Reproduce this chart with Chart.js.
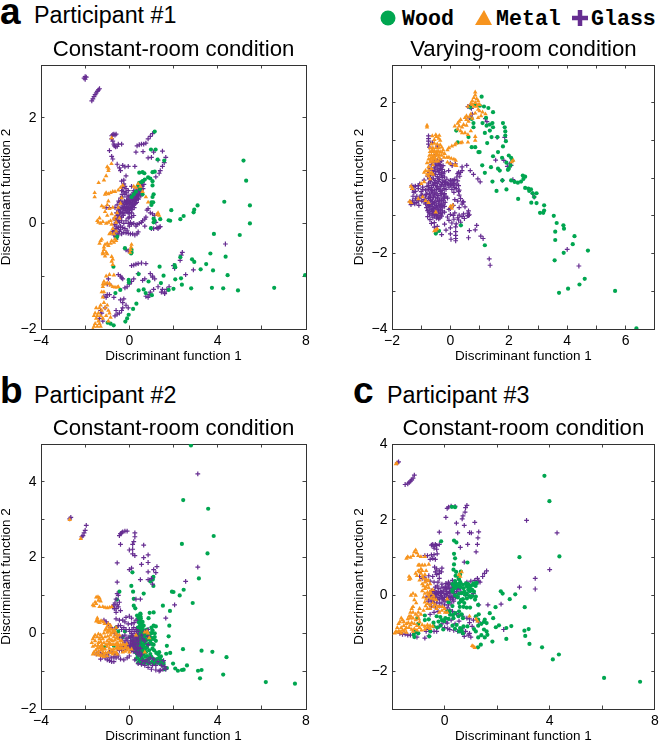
<!DOCTYPE html>
<html>
<head>
<meta charset="utf-8">
<title>Discriminant functions</title>
<script src="https://cdn.jsdelivr.net/npm/chart.js@4/dist/chart.umd.min.js"></script>
<style>
  html, body { margin: 0; padding: 0; background: #fff; overflow: hidden; }
  #page { position: relative; width: 660px; height: 740px; font-family: "Liberation Sans", Arial, sans-serif; color: #000; }
  canvas { position: absolute; }
  .letter { position: absolute; font-weight: bold; font-size: 37px; line-height: 37px; }
  .participant { position: absolute; font-size: 23.3px; line-height: 26px; }
  .legendText { position: absolute; top: 5px; font-family: "Liberation Mono", monospace; font-weight: bold; font-size: 21.6px; line-height: 28px; }
  .legendMark { position: absolute; }
</style>
</head>
<body>
<div id="page">
  <div class="letter" style="left:0;top:-7px">a</div>
  <div class="participant" style="left:34px;top:2px">Participant #1</div>
  <div class="letter" style="left:0;top:372px">b</div>
  <div class="participant" style="left:34px;top:382px">Participant #2</div>
  <div class="letter" style="left:353px;top:372px">c</div>
  <div class="participant" style="left:387px;top:382px">Participant #3</div>

  <svg class="legendMark" style="left:380px;top:9px" width="16" height="18"><circle cx="8" cy="9" r="7.5" fill="#00a650"/></svg>
  <div class="legendText" style="left:402px">Wood</div>
  <svg class="legendMark" style="left:475px;top:9px" width="18" height="18"><polygon points="9,1 17,16 0,16" fill="#f7941e"/></svg>
  <div class="legendText" style="left:496px">Metal</div>
  <svg class="legendMark" style="left:571px;top:9px" width="18" height="18"><path d="M9 1V17M1 9H17" stroke="#662d91" stroke-width="4.5"/></svg>
  <div class="legendText" style="left:591px">Glass</div>

  <canvas id="chartA1" width="330" height="370" style="left:0;top:0"></canvas>
  <canvas id="chartA2" width="330" height="370" style="left:330px;top:0"></canvas>
  <canvas id="chartB" width="330" height="370" style="left:0;top:370px"></canvas>
  <canvas id="chartC" width="330" height="370" style="left:330px;top:370px"></canvas>
</div>

<script>
// values, one [x, y] per trial
const a1Wood = [[1.15,1.74],[.98,1.4],[1.19,1.4],[1.28,1.21],[1.58,1.19],[5.17,1.19],[5.29,.81],[4.3,.41],[5.46,.34],[5.46,0],[3.09,.34],[2.94,.26],[2.91,.21],[1.9,.25],[2.46,.14],[2.31,.08],[1.78,.06],[1.85,.05],[1.4,.08],[1.1,.09],[.98,-.09],[3.83,-.2],[5,-.22],[3.67,-.57],[4.36,-.63],[2.31,-.64],[2.84,-.68],[2.94,-.73],[3.48,-.77],[3.23,-.87],[3.79,-.89],[2.05,-.79],[2.08,-.83],[1.37,-.82],[4.45,-.98],[7.96,-.98],[-.72,-.82],[.42,-.96],[1.55,-.99],[2.08,-1.06],[2.34,-1.04],[3.74,-1.22],[4.25,-1.23],[4.92,-1.27],[6.56,-1.22],[2.8,-1.23],[2.38,-1.16],[2,-1.24],[1.78,-1.26],[1.43,-1.13],[.87,-1.1],[-.03,-1.07],[-.02,-1.12],[-.41,-1.26],[-.63,-1.32],[.42,-1.27],[.65,-1.25],[.74,-1.32],[1.02,-1.36],[.32,-1.52],[.17,-1.62],[-.03,-1.73],[-.1,-1.8],[-.18,-1.86],[-.71,-1.93],[-.85,-1.9],[-.98,-1.88],[.45,.96],[.6,.97],[.68,.95],[1.05,.97],[1.15,.98],[.85,.87],[.7,.83],[.6,.8],[.55,.78],[.45,.77],[.4,.72],[.48,.65],[.6,.55],[.3,.6],[.2,.55],[.1,.5],[.95,.85],[1.05,.8],[1.05,.72],[1.1,.55],[1.05,.5],[1.08,.4],[1,.4],[1,.35],[-.55,-.25],[-.6,-.28],[-.2,-.47],[.1,-.5],[.1,-.55],[.08,-.57],[1.1,.02],[1.15,.05]];
const a1Metal = [[-1,1.07],[-.95,1],[-1.05,.9],[-1.15,.82],[-1.39,.77],[-.94,1.04],[-.81,1.13],[-1.57,.58],[-1.57,.5],[-1.1,.55],[-1.05,.58],[-.95,.56],[-.85,.58],[-.75,.6],[-.65,.6],[-.5,.63],[-.4,.68],[-.3,.72],[-1.25,.33],[-1.15,.3],[-1.1,.22],[-1,.35],[-1,.15],[-.95,.42],[-.9,.28],[-.85,.05],[-.8,.18],[-.75,.3],[-1.45,.05],[-1.4,.02],[-1.35,.1],[-1.3,0],[-1.2,.03],[-1.05,0],[-.95,.02],[-.8,-.02],[-.7,.08],[-.65,.12],[-.6,.02],[-.55,.2],[-.5,.3],[-.45,.1],[-.4,.38],[-.35,.48],[-.9,-.2],[-.85,-.18],[-.75,-.1],[-.7,-.2],[-.65,-.3],[-.6,-.15],[-1.3,-.33],[-1.25,-.3],[-1.35,-.38],[-1.15,-.45],[-1.1,-.4],[-1,-.38],[-.95,-.42],[-.85,-.38],[-.8,-.33],[-.7,-.36],[-.6,-.33],[-1.15,-.5],[-1.05,-.55],[-1.2,-.55],[-1.2,-.58],[-1.1,-.62],[-1,-.58],[-.8,-.63],[-.75,-.68],[-.8,-.72],[-.75,-.78],[.1,-.4],[.08,-.45],[.05,-.5],[.03,-.55],[.4,.75],[.5,.7],[.6,.6],[.75,.5],[.85,.4],[.3,.68],[.2,.7],[1.3,.2],[1.35,.15],[1.25,.17],[-1.05,-1],[-1.1,-1.15],[-1.15,-1.1],[-1.2,-1.15],[-1,-1.13],[-.9,-1.14],[-.85,-1.17],[-.75,-1.2],[-.65,-1.21],[-.55,-1.21],[-.5,-1.2],[-.9,-.97],[-.7,-.98],[-1.2,-1.2],[-1.25,-1.3],[-1.2,-1.4],[-1.15,-1.5],[-1.3,-1.55],[-1.35,-1.6],[-1.4,-1.7],[-1.45,-1.75],[-1.5,-1.8],[-1.4,-1.85],[-1.55,-1.9],[-1.6,-1.95],[-1.65,-2],[-1.3,-1.75],[-1.2,-1.8],[-1.35,-1.9],[-1.25,-1.65],[-1.1,-1.6],[-1,-1.55],[-.95,-1.65],[-.9,-1.7],[-1.05,-1.75],[-.95,-1.85],[-.85,-1.78],[-1.15,-1.3],[-1.3,-1.95],[-1.45,-1.95],[-1.55,-1.7],[-1.6,-1.75],[-1.5,-1.6],[-.8,1.62]];
const a1Glass = [[-2.05,2.75],[-2,2.73],[-1.95,2.77],[-2,2.78],[-1.7,2.32],[-1.65,2.36],[-1.6,2.4],[-1.55,2.44],[-1.5,2.47],[-1.45,2.5],[-1.4,2.53],[-1.35,2.55],[-.8,1.66],[-.75,1.68],[-.7,1.69],[-.65,1.67],[-.6,1.69],[-.8,1.6],[-.75,1.56],[-.7,1.5],[-.68,1.47],[-.62,1.45],[-.55,1.46],[-.5,1.5],[-.35,1.5],[-.9,1.38],[.35,1.47],[.45,1.49],[.55,1.5],[.65,1.5],[.75,1.52],[.85,1.6],[.95,1.65],[1.05,1.7],[.3,1.35],[.62,1.36],[1.1,1.35],[1.5,1.37],[.85,1.24],[1,1.25],[1.3,1.2],[1.65,1.25],[1.58,1.15],[1.5,1.08],[1.4,1],[1.35,.95],[1.2,.88],[-.8,1.27],[-.75,1.22],[-.55,1.12],[-.45,1.05],[-.4,1],[-.3,1.1],[-.2,1.07],[-.05,1.08],[.25,1.08],[-.15,.9],[-.7,-.2],[-.65,-.12],[-.6,-.05],[-.62,.05],[-.55,.02],[-.5,.1],[-.55,.15],[-.45,.18],[-.5,.25],[-.4,.22],[-.38,.3],[-.35,.12],[-.3,.2],[-.28,.28],[-.25,.35],[-.22,.42],[-.18,.28],[-.15,.36],[-.12,.44],[-.1,.22],[-.08,.3],[-.05,.38],[-.02,.46],[0,.25],[.02,.33],[.05,.4],[.08,.48],[.1,.3],[.12,.36],[.15,.43],[.18,.5],[.2,.35],[.22,.42],[.25,.48],[.28,.55],[.3,.45],[.32,.52],[.35,.6],[.38,.48],[.4,.55],[.42,.63],[.45,.7],[.5,.6],[.55,.72],[.6,.78],[.28,.38],[.18,.58],[.05,.52],[-.1,.5],[-.2,.55],[-.3,.5],[-.4,.48],[-.45,.4],[-.55,.35],[-.65,.3],[-.9,.3],[-1.05,.3],[-.35,.62],[-.3,.68],[-.25,.75],[-.35,.8],[-.25,.82],[-.2,.7],[-.15,.66],[-.05,.62],[.1,.7],[.2,.62],[-.7,-.22],[-.75,-.15],[-.6,-.25],[-.55,-.18],[-.45,-.15],[-.5,-.08],[-.4,-.05],[-.45,.02],[-.35,.05],[-.6,-.3],[-.35,-.2],[-.25,-.17],[-.2,-.1],[-.1,-.13],[0,-.05],[-.15,-.18],[.05,.02],[-.05,.1],[.1,.12],[.2,.15],[.05,-.2],[-.05,-.19],[.15,-.2],[.25,-.22],[.35,-.2],[.4,-.16],[.3,-.05],[.35,-.02],[.45,0],[.55,.02],[.6,.05],[.7,.08],[.75,.12],[.2,0],[.1,-.02],[.7,-.05],[.85,.28],[.8,.25],[.95,.2],[1.05,.18],[1.15,.15],[1.2,.02],[1,-.1],[1.1,-.1],[1.25,-.08],[1.35,-.07],[1.4,-.06],[1.3,-.1],[-.15,-.5],[-.05,-.52],[.1,-.8],[.2,-.79],[.3,-.77],[.4,-.76],[.55,-.75],[.75,-.76],[-.5,-.97],[-.4,-1],[-.35,-1.03],[-.3,-1.05],[1.05,-1],[1.15,-1.05],[.7,-1.05],[.95,-.95],[1.05,-1.02],[.6,-1.08],[.2,-1.05],[.1,-1.1],[0,-1.15],[-.1,-1.2],[-.2,-1.22],[1.6,-1.3],[1.6,-1.33],[1.7,-1.25],[1.8,-1.2],[1.5,-1.25],[1.45,-1.3],[1.3,-1.2],[1.1,-1.25],[.95,-1.3],[.9,-1.35],[.85,-1.4],[.75,-1.38],[.4,-.95],[2,-.8],[2.05,-.85],[2.3,-.7],[2.35,-.6],[2.4,-.55],[2.55,-.97],[2.9,-.88],[4.35,-.39],[-.9,-1.15],[-1,-1.15],[-.95,-1.05],[-1,-1.35],[-1.05,-1.4],[-1.15,-1.38],[-.9,-1.35],[-.7,-1.4],[-.4,-1.45],[-.3,-1.5],[-.3,-1.6],[-.35,-1.65],[-.45,-1.7],[-.55,-1.72],[-.65,-1.75],[-1.25,-1.7],[-1.3,-1.65],[-1.35,-1.8],[-1.2,-1.85],[-1.1,-1.6],[-.25,-1.43],[-.15,-1.55],[-.05,-1.6],[-.6,-1.65]];
const a1GlassCore = [[-.72,-.12],[-.68,-.02],[-.66,.1],[-.6,.08],[-.58,.2],[-.52,.18],[-.48,.05],[-.45,.28],[-.42,.12],[-.38,.2],[-.33,.3],[-.32,.38],[-.27,.15],[-.25,.25],[-.22,.32],[-.2,.2],[-.17,.4],[-.14,.25],[-.12,.32],[-.08,.42],[-.05,.2],[-.03,.3],[0,.4],[.02,.2],[.04,.28],[.07,.35],[.09,.44],[.12,.26],[.15,.32],[.17,.38],[.19,.46],[.22,.3],[.24,.38],[.27,.44],[.29,.5],[.33,.4],[.35,.47],[.37,.56],[.41,.46],[.43,.52],[.46,.6],[.48,.66],[.52,.52],[.54,.64],[.57,.7],[.62,.66],[.66,.74],[.34,.68],[.26,.62],[.13,.54],[-.02,.52],[-.14,.58],[-.25,.6],[-.33,.55],[-.38,.42],[-.48,.42],[-.58,-.1],[-.5,-.22],[-.4,-.12],[-.3,-.08],[-.25,0],[-.15,.05],[-.05,0],[0,.12],[.1,.2]];

const a2Wood = [[1.07,2.16],[1.46,1.75],[1.3,1.86],[1.15,1.9],[1.01,1.92],[.85,1.95],[.68,1.88],[1.22,1.6],[1.1,1.46],[1.24,1.39],[1.35,1.42],[1.44,1.46],[1.46,1.35],[1.35,1.26],[1.18,1.2],[.79,1.46],[.73,1.57],[.79,1.35],[.2,1.26],[.25,.95],[.62,1.09],[.73,.82],[.85,.82],[.96,.69],[1,.69],[1.8,1.46],[1.86,1.35],[1.88,1.24],[1.88,1.13],[1.9,.98],[1.8,.84],[1.41,1.09],[1.61,1.09],[1.26,.93],[1.46,.58],[1.63,.69],[1.77,.54],[2,.6],[2.08,.54],[2.12,.47],[1.92,.41],[2.06,.34],[2,.25],[1.97,.22],[1.63,.25],[1.69,.2],[1.39,.29],[1.09,.34],[1.18,.14],[1.44,-.09],[1.58,-.34],[1.92,-.3],[1.78,-.06],[2.08,-.06],[2.2,-.1],[2.31,-.12],[2.42,-.09],[2.48,.07],[2.56,.04],[2.5,-.02],[2.56,-.26],[2.67,-.28],[2.7,-.34],[2.76,-.3],[2.82,-.4],[2.95,-.4],[2.87,-.5],[2.32,-.55],[2.77,-.65],[2.95,-.66],[3.21,-.72],[3.07,-.92],[3.18,-.92],[3.21,-.86],[3.54,-1],[3.64,-1.19],[3.87,-1.25],[3.89,-1.34],[3.59,-1.42],[4.25,-1.54],[3.59,-1.64],[4.19,-1.75],[4.71,-1.92],[3.88,-1.98],[3.57,-2.18],[4.6,-2.67],[4.42,-2.82],[4.03,-2.93],[3.72,-3.04],[5.64,-2.99],[6.37,-3.98],[1.18,-1.78],[.36,-1.25],[-.39,-1.4],[-.5,-1.47]];
const a2Metal = [[.85,2.28],[.85,2.2],[.8,2.13],[.9,2.1],[.75,2.05],[.95,2.05],[.7,1.98],[.85,2],[1,1.95],[.6,1.9],[.8,1.9],[.95,1.82],[1.1,1.75],[1.2,1.7],[.7,1.7],[.85,1.72],[.55,1.65],[.65,1.62],[.75,1.58],[.95,1.6],[1.05,1.65],[.5,1.6],[.35,1.55],[.3,1.5],[.25,1.45],[.45,1.42],[.55,1.4],[.15,1.38],[.3,1.38],[.4,1.35],[.25,1.3],[.35,1.25],[.4,1.2],[.5,1.2],[.6,1.15],[.85,1.1],[.85,1],[.7,1.25],[.6,.95],[.4,.95],[.35,.93],[.15,.88],[.05,.85],[-.05,.8],[-.1,.75],[.2,.92],[-.8,1.4],[-.8,1.35],[-.5,1.15],[-.48,1.1],[-.62,1.12],[-.38,1.13],[-.4,1.05],[-.55,1.02],[-.35,1],[-.65,.9],[-.55,.92],[-.45,.9],[-.35,.88],[-.7,.8],[-.6,.8],[-.5,.8],[-.4,.8],[-.3,.82],[-.25,.75],[-.7,.7],[-.62,.7],[-.55,.72],[-.48,.7],[-.42,.72],[-.35,.7],[-.28,.68],[-.2,.65],[-.72,.6],[-.65,.62],[-.58,.6],[-.5,.62],[-.44,.6],[-.38,.62],[-.3,.6],[-.22,.55],[-.12,.55],[-.05,.55],[.03,.52],[.12,.5],[.18,.47],[-.75,.5],[-.68,.52],[-.6,.5],[-.52,.52],[-.35,.5],[-.8,.4],[-.7,.42],[-.6,.35],[-.75,.3],[-.85,.2],[-.8,.1],[-.9,.15],[-.75,.05],[-.65,.15],[-.7,-.02],[-.1,.42],[0,.38],[.15,.35],[.2,.33],[-.9,-.1],[-1,-.15],[-1.35,-.22],[-1.3,-.28],[-1.4,-.62],[-1.35,-.65],[-1.1,-.55],[-.95,-.5],[0,-.75],[.08,-.72],[.05,-.8],[-.45,-1.35],[-.55,-1.4],[-.5,-1.38],[2.15,.47],[2.1,.43],[-.5,-.9],[-.75,-.65],[-.85,-.6],[-.62,.75],[-.52,.68],[-.45,.65],[-.4,.55],[-.55,.56],[-.62,.55],[-.68,.45],[-.6,.44],[-.5,.45],[-.42,.45],[-.75,.2],[-.65,.25],[-.72,.12],[-.6,.1],[.95,1.95],[.9,1.9],[.75,1.95],[1,1.78],[.55,1.55],[.62,1.5]];
const a2Glass = [[-.75,1.12],[-.75,1.05],[-.75,.98],[-.75,.9],[-.72,.82],[-.62,.95],[-.45,.85],[-.55,.58],[-.55,.45],[-.45,.47],[-.38,.44],[-.3,.46],[-.65,.35],[-.5,.37],[-.42,.34],[-.35,.36],[-.25,.33],[-.7,.25],[-.55,.27],[-.45,.24],[-.35,.26],[-.28,.23],[-.72,.15],[-.58,.13],[-.4,.16],[-.3,.14],[-.2,.17],[-.78,.05],[-.6,.07],[-.45,.04],[-.3,.06],[-.2,.03],[-.9,-.05],[-.65,-.03],[-.52,-.06],[-.38,-.04],[-.25,-.07],[-.12,-.03],[0,-.06],[.15,-.04],[.25,-.07],[-1.05,-.15],[-.75,-.13],[-.6,-.16],[-.45,-.14],[-.32,-.17],[-.2,-.12],[-.1,-.15],[.05,-.18],[.12,-.13],[.22,-.16],[-1.32,-.2],[-1.25,-.23],[-1.2,-.21],[-.95,-.24],[-.8,-.22],[-.65,-.25],[-.5,-.2],[-.35,-.23],[-.22,-.21],[-.05,-.24],[.1,-.2],[-1.3,-.3],[-1.1,-.28],[-.85,-.32],[-.7,-.29],[-.55,-.31],[-.42,-.27],[-.28,-.33],[-.15,-.3],[.2,-.28],[.3,-.32],[-1.25,-.38],[-1,-.36],[-.8,-.4],[-.65,-.37],[-.5,-.39],[-.35,-.35],[-.2,-.41],[.12,-.38],[.28,-.36],[-.95,-.45],[-.82,-.43],[-.68,-.47],[-.55,-.44],[-.42,-.46],[-.3,-.42],[-.15,-.48],[.3,-.45],[-1.2,-.55],[-1.05,-.53],[-.9,-.57],[-.75,-.54],[-.62,-.56],[-.5,-.52],[-.38,-.58],[-.25,-.55],[-.1,-.53],[.15,-.57],[.35,-.54],[-1.38,-.62],[-1.3,-.6],[-1.15,-.64],[-.98,-.61],[-.8,-.63],[-.68,-.59],[-.55,-.65],[-.42,-.62],[-.3,-.6],[-.18,-.64],[.25,-.61],[.42,-.63],[-1.35,-.7],[-1.22,-.68],[-1.08,-.72],[-.85,-.69],[-.72,-.71],[-.6,-.67],[-.48,-.73],[-.35,-.7],[-.25,-.68],[.1,-.72],[.4,-.69],[-.82,-.78],[-.7,-.76],[-.58,-.8],[-.45,-.77],[-.32,-.79],[-.2,-.75],[0,-.81],[.3,-.78],[.5,-.76],[-.78,-.86],[-.65,-.84],[-.52,-.88],[-.4,-.85],[-.28,-.87],[-.05,-.83],[-.72,-.95],[-.6,-.93],[-.48,-.97],[-.35,-.94],[0,-.96],[.15,-.92],[.3,-.98],[.45,-.95],[.6,-.93],[.65,-.97],[-.78,-1.02],[-.55,-1],[-.42,-1.04],[-.3,-1.01],[-.1,-1.03],[.1,-.99],[.25,-1.05],[.4,-1.02],[.58,-1],[-.7,-1.1],[-.4,-1.08],[-.05,-1.12],[.12,-1.09],[.28,-1.11],[.48,-1.07],[-.65,-1.2],[-.55,-1.18],[-.2,-1.22],[.05,-1.19],[.2,-1.21],[.35,-1.17],[-.55,-1.3],[-.45,-1.28],[0,-1.32],[.18,-1.29],[-.45,-1.4],[-.15,-1.38],[.18,-1.42],[.65,-1.39],[.9,-1.25],[.85,-1.37],[-.3,-1.5],[.18,-1.52],[0,-1.48],[.18,-1.6],[.02,-1.62],[.62,-1.58],[1.04,-1.54],[1.12,-1.6],[.18,-1.66],[1.33,-2.14],[1.36,-2.31],[4,-1.89],[4.4,-2.33],[2.82,-.41],[2.87,-.5],[.56,.34],[.68,.2],[.79,.1],[.94,-.02],[1.02,-.1],[1.86,1.08],[1.6,1.08],[1.55,.48],[1.83,.47],[1.95,.31],[2.03,.38],[1.78,-.06],[2.14,-.04],[.45,-.63],[.62,-.87],[.62,-.99],[.6,1.9],[.68,1.88],[.7,1.93],[.72,1.85],[.75,1.7],[.7,1.62],[.65,1.6],[1.2,1.58],[1.25,1.5],[.28,.16],[.4,.2],[.22,.03],[.11,-.15],[.06,-.06],[-.06,-.15],[-.17,-.1],[.17,.38],[0,.4],[.06,.33],[-.06,.2],[2.08,.34]];
const a2GlassCore = [[-.62,.42],[-.5,.32],[-.4,.4],[-.32,.3],[-.6,.2],[-.5,.18],[-.38,.2],[-.25,.12],[-.68,.08],[-.52,.1],[-.36,.1],[-.72,-.02],[-.58,-.02],[-.42,0],[-.28,.02],[-.68,-.1],[-.54,-.11],[-.4,-.09],[-.27,-.12],[-.74,-.2],[-.58,-.19],[-.45,-.22],[-.3,-.18],[-.16,-.18],[-.75,-.3],[-.62,-.33],[-.48,-.3],[-.36,-.31],[-.22,-.28],[-.72,-.42],[-.6,-.4],[-.46,-.42],[-.33,-.41],[-.24,-.44],[-.85,-.5],[-.7,-.51],[-.58,-.5],[-.44,-.53],[-.32,-.5],[-.2,-.52],[-.9,-.62],[-.74,-.6],[-.62,-.62],[-.5,-.6],[-.36,-.6],[-.24,-.6],[-.78,-.68],[-.66,-.7],[-.54,-.69],[-.4,-.68],[-.3,-.72],[-.75,-.74],[-.62,-.75],[-.5,-.78],[-.38,-.74],[-.26,-.76],[-.7,-.82],[-.58,-.84],[-.46,-.82],[-.34,-.84],[-.74,-.9],[-.62,-.88],[-.52,-.92],[-.4,-.9],[-.28,-.92],[-.66,-.98],[-.54,-.96],[-.44,-1],[-.32,-.98],[-.6,-1.05],[-.48,-1.06],[-.36,-1.05],[-.95,-.3],[-1,-.45],[-1.1,-.6],[-1.25,-.65],[-1.15,-.48],[-1.28,-.48],[-1.2,-.35],[-1.1,-.2],[-.2,-.9],[.05,-.3],[0,-.18],[.15,-.25],[.28,-.2],[.32,.05],[.35,.15],[.4,.3],[.25,.12],[.12,-.05],[.02,-.1]];

const bWood = [[2.79,4.96],[2.44,3.52],[3.57,3.29],[3.82,2.57],[2.38,2.36],[3.54,2.11],[.14,1.61],[1.09,1.49],[1.06,1.42],[.95,1.37],[3.15,1.45],[2.46,1.15],[2.28,1],[1.93,1.1],[2,1.09],[1.09,1.25],[.09,1.25],[.17,1.1],[.65,1.05],[-.45,1.1],[.2,.91],[-.56,.89],[2.87,.8],[1.52,.73],[1.84,.59],[.2,.73],[.27,.66],[1.1,.55],[.92,.54],[.5,.52],[.5,.45],[.35,.47],[.87,.4],[1.81,.2],[1.78,-.08],[1.7,-.33],[2.43,-.42],[3.27,-.46],[3.76,-.49],[4.4,-.63],[1.85,-.52],[1.67,-.54],[1.98,-.8],[2.61,-.85],[2.46,-.96],[2.38,-.97],[2.2,-.99],[2.08,-.93],[3.11,-.99],[3.27,-.97],[4.25,-1.09],[3.2,-1.19],[6.18,-1.29],[7.5,-1.33],[1.7,-.92],[1.55,-.83],[1.4,-.7],[1.43,-.61],[.4,.4],[.5,.5],[.5,.35],[.45,.28],[.55,.25],[.45,.15],[.55,.12],[.65,.2],[.4,.08],[.6,.05],[.5,0],[.7,.02],[.8,.1],[1,.15],[1.1,.2],[1.2,.18],[1.05,.08],[.45,-.05],[.6,-.08],[.75,-.05],[1,0],[1.15,0],[.5,-.15],[.65,-.15],[.85,-.15],[1,-.12],[1.2,-.2],[.35,-.2],[.5,-.25],[.7,-.25],[.9,-.28],[1.1,-.3],[.3,-.32],[.45,-.35],[.6,-.35],[.8,-.38],[1.05,-.4],[.4,-.45],[.55,-.45],[.35,-.55],[.5,-.58],[.65,-.55],[.8,-.6],[1,-.62],[.3,-.68],[.45,-.7],[.6,-.68],[.85,-.7],[1.2,-.72],[1.3,-.78],[1.4,-.8],[.4,-.78],[1.5,-.85],[1.45,-.72],[1.35,-.65],[.2,-.3],[.15,-.2],[.05,-.1],[-.2,.05],[-.5,.05],[-.6,.15],[-.3,-.1],[-.7,-.33],[-1.1,-.35],[.95,-.78],[.7,-.42],[.95,0],[1.08,-.15],[1.15,-.1],[.42,.3],[.52,.4],[.6,.3],[.48,.2],[.58,.15],[.38,.15],[.68,.08],[.52,.06],[.42,-.02],[.62,-.02],[.78,0],[.35,-.1],[.55,-.1],[.7,-.1],[.9,-.08],[.42,-.18],[.58,-.2],[.78,-.18],[.95,-.2],[.28,-.25],[.4,-.28],[.55,-.3],[.65,-.3],[.82,-.3],[1.02,-.28],[.22,-.4],[.38,-.38],[.52,-.4],[.68,-.38],[.9,-.45],[1.12,-.45],[.28,-.5],[.42,-.52],[.6,-.5],[.75,-.5],[.95,-.55],[.38,-.62],[.55,-.62],[.72,-.62],[.92,-.65],[1.1,-.68],[.5,-.72],[.75,-.72],[1.05,-.75],[.55,-.8],[.7,-.78],[.85,-.8],[1.15,-.8],[1.25,-.68],[1.55,-.78],[1.6,-.95],[1.3,-.55],[1.22,-.52],[1.35,-.5]];
const bMetal = [[-2.7,3],[-2.2,2.5],[-1.5,.95],[-1.42,.96],[-1.35,.93],[-1.4,.87],[-1.3,.85],[-1.55,.82],[-1.65,.75],[-1.6,.72],[-1.5,.78],[-1.35,.7],[-1.2,.7],[-1.1,.68],[-1,.67],[-.9,.68],[-.8,.7],[-1.45,.35],[-1.4,.3],[-1.5,.32],[-1.35,.28],[-1.45,.4],[-1.6,-.1],[-1.55,-.05],[-1.65,-.15],[-1.7,-.25],[-1.55,-.2],[-1.45,-.1],[-1.4,-.25],[-1.65,-.35],[-1.55,-.32],[-1.45,-.4],[-1.35,-.38],[-1.6,-.5],[-1.5,-.55],[-1.65,-.55],[-1.4,-.5],[-1.3,-.45],[-1.25,-.3],[-1.2,-.15],[-1.15,0],[-1.1,-.1],[-1.2,-.5],[-1.1,-.42],[-1.05,-.3],[-1,-.2],[-1,.02],[-1.05,.12],[-1,.18],[-.95,.25],[-.85,.2],[-.8,.1],[-.9,.05],[-.85,-.05],[-.9,-.15],[-.85,-.3],[-.9,-.4],[-.95,-.5],[-.8,-.45],[-.75,-.2],[-.7,-.1],[-.65,.05],[-.7,-.3],[-.6,-.4],[-.55,-.25],[-.5,-.15],[-.45,-.05],[-.5,-.3],[-.45,-.42],[-.4,-.3],[-.35,-.2],[-.3,-.4],[-.25,-.3],[-.2,-.48],[-.15,-.35],[-.1,-.45],[0,-.5],[.1,-.42],[-.6,-.5],[-.75,-.55],[-1,-.6],[-1.15,-.62],[-1.3,-.58],[-.6,.15],[-.55,-.55],[.7,.03],[.8,.05],[.85,0],[.9,-.12],[.7,-.5],[.3,-.05],[-1.25,-.1],[-1.3,-.22],[-1.35,-.15],[-1.15,-.25],[-1.2,-.38],[-1.3,-.35],[-1.08,-.52],[-1,-.35],[-.95,-.28],[-.98,-.08],[-.9,-.25],[-.82,-.18],[-.78,-.3],[-.72,-.42],[-.65,-.18],[-.62,-.3],[-.55,-.38],[-.58,-.12],[-.48,-.38],[-.42,-.2],[-.38,-.38],[-.32,-.3],[-.3,-.5],[-.2,-.38],[-.12,-.28],[-.05,-.4],[-.7,-.5],[-.85,-.52],[-.82,0],[-.75,.02],[-.95,.08],[-.7,.08],[-.88,.12],[-.6,-.02],[-.55,-.05],[-1.12,.25],[-1.18,.3],[-1.28,.33],[-1.1,.08],[-1.3,-.05],[-1.4,-.02],[-1.15,-.55],[-1.22,-.42],[-1.42,-.32],[-1.52,-.45],[-1.4,-.58],[-1.25,-.6]];
const bGlass = [[-2.65,3.06],[-2.7,3.02],[-1.95,2.85],[-2,2.72],[-2.05,2.65],[-2.1,2.58],[-2.15,2.55],[-.45,2.58],[-.4,2.63],[-.35,2.65],[-.3,2.68],[-.2,2.7],[-.1,2.7],[.25,2.65],[.25,2.55],[.2,2.42],[-.4,2.35],[.15,2.35],[0,2.2],[.15,2.22],[.65,2.33],[.15,2.1],[.25,2.05],[.85,2.07],[.65,2],[.85,1.87],[1.25,1.76],[.55,1.82],[-.55,1.86],[.1,1.72],[0,1.68],[.85,1.62],[1.1,1.68],[3.1,1.75],[1.2,1.6],[1,1.45],[.5,1.42],[.85,1.42],[1.05,1.3],[-.55,1.35],[2.55,1.37],[.5,.9],[.3,.9],[-.55,1.05],[-.5,1],[-.6,.9],[-.65,.8],[-.7,.75],[-.75,.7],[-.6,.65],[-.5,.7],[-.45,.82],[-.4,.6],[2.05,.75],[1.65,.4],[3.1,4.21],[.3,.35],[.1,.4],[0,.45],[-.15,.42],[-.3,.35],[-.45,.35],[-.6,.38],[-1.15,.35],[-1.05,.3],[-.95,.25],[-.85,.15],[-.75,.1],[-.6,.15],[-.5,.2],[-.35,.1],[-.25,.15],[-.15,.1],[0,.1],[.1,0],[.2,.15],[.3,.1],[.4,.05],[.1,-.05],[.2,-.1],[.3,-.05],[.35,-.15],[.15,-.2],[.25,-.22],[.05,-.25],[.3,-.3],[.4,-.28],[.15,-.32],[.2,-.4],[.35,-.42],[.1,-.45],[0,-.35],[-.1,-.2],[-.2,-.25],[-.3,-.2],[-.1,-.32],[-.25,-.35],[-.35,-.35],[.3,-.5],[.45,-.5],[.55,-.55],[.6,-.15],[.55,-.05],[.7,.05],[.85,.1],[.85,-.08],[.7,-.2],[.85,-.3],[.5,-.4],[-.45,-.45],[-1.3,-.55],[-1.2,-.6],[-1.1,-.65],[-1,-.7],[-.9,-.72],[-.8,-.75],[-.7,-.75],[-.6,-.65],[-.5,-.6],[-.4,-.68],[-.25,-.7],[-.1,-.65],[0,-.6],[-1.4,-.5],[-1.5,-.55],[.25,-.7],[.4,-.8],[.55,-.82],[.7,-.85],[.85,-.9],[1,-.95],[1.2,-.97],[1.35,-1],[1.4,-.98],[.8,-.7],[.95,-.65],[1.1,-.68],[1.3,-.75],[1.55,-.72],[1.6,-.88],[1.65,-.95],[-.9,-.5],[-.75,-.5],[-.55,-.4],[-.65,-.55],[.02,.05],[.12,.1],[.22,.05],[.32,0],[.05,-.12],[.15,-.08],[.25,-.15],[.4,-.1],[.42,-.2],[.08,-.2],[.3,-.22],[.18,-.28],[.1,-.32],[.25,-.35],[.4,-.38],[.05,-.4],[.18,-.48],[.28,-.42],[.38,-.55],[.5,-.6],[-.05,-.1],[-.15,-.15],[-.2,-.05],[-.32,-.08],[-.45,-.12],[-.55,-.05],[-.68,0],[-.05,-.28],[-.15,-.42],[-.35,-.45],[-.55,-.55],[-.7,-.62],[-.82,-.65],[-.95,-.6],[-1.05,-.55],[-1.2,-.52],[-1.3,-.68],[-.4,.2],[-.2,.3],[-.05,.25],[.1,.25],[.22,.28],[-.6,.55],[-.55,.75],[-.68,.65],[.6,-.72],[.72,-.75],[.9,-.78],[1.05,-.85],[1.2,-.85],[1.45,-.85],[1.52,-.95]];

const cWood = [[3.8,3.16],[3.99,2.49],[4.37,1.03],[2.85,1.01],[.28,2.34],[.4,2.33],[-.13,1.43],[.36,1.45],[.45,1.4],[.36,1.1],[.4,.98],[.36,.82],[.87,.87],[.34,.68],[.44,.62],[.62,.63],[.59,.55],[.53,.46],[2.14,.11],[2.21,.05],[2.69,.03],[2.48,-.1],[1.94,-.31],[3.05,-.31],[1.22,.33],[1.09,.28],[.84,.24],[.72,.19],[.65,.06],[.9,.15],[.97,.11],[1.19,-.03],[1.16,-.11],[.84,-.32],[.97,-.32],[1.28,-.25],[1.72,-.47],[1.85,-.6],[1.95,-.84],[2.07,-.79],[2.54,-.81],[2.35,-.86],[2.35,-1.15],[1.82,-1.22],[3.04,-.93],[3.2,-.89],[3.07,-1.07],[3.23,-1.28],[3.71,-1.37],[4.12,-1.69],[4.35,-1.56],[6.07,-2.18],[7.44,-2.28],[1.63,-1.04],[1.53,-1.11],[1.28,-1.11],[1.38,-1.3],[1.27,-1.37],[1.12,-.89],[1.19,-.95],[1.19,-.55],[1.28,-.64],[1.53,-.64],[1.6,-.73],[.87,-.82],[.72,-.82],[.59,-.86],[.46,-.78],[.34,-.6],[.53,-.55],[.21,-.51],[.03,-.6],[-.16,-.57],[-.23,-.69],[-.41,-.82],[-.54,-.95],[-.58,-1.08],[-.6,-.63],[-.75,-.53],[-1.04,-.6],[-1.17,-1.04],[.09,-.42],[.4,-.47],[.7,-.1],[.75,-.2],[.55,-.2],[.5,-.05],[.4,0],[.3,.1],[.5,.25],[.4,.38],[.6,.35],[.3,.15],[.85,.05],[1,-.05],[.65,-.15],[.75,.1],[.3,.3],[.42,.2],[.55,.05],[.6,.22],[.55,.3],[.7,.28],[.82,.32],[.9,.3],[1,.25],[1.1,.32],[1.18,.25],[.95,.2],[1.05,.15],[1.12,.1],[.78,.02],[.85,-.08],[.95,-.02],[1.05,-.02],[.58,-.3],[.72,-.3],[.62,-.12],[.15,-.18],[.3,-.28],[.2,-.42],[.55,-.42],[.32,-.52],[.65,-.5],[.7,-.6],[.15,-.62],[-.1,-.65],[-.02,-.68],[-.3,-.55],[-.42,-.72],[-.28,-.85],[-.15,-.8],[-.05,-.9],[.3,-.8],[.4,-.88],[.55,-.95],[.65,-.92],[.7,-1],[-.75,-.65],[-1,-.75],[-1.1,-.95],[-1,-1],[-1.15,-1.1],[1.28,-.8],[1.4,-.75],[1.5,-.9],[1.6,-.95],[1.4,-1.05],[1.5,-.7],[1.3,-.5],[.42,.52],[.55,.42],[.45,.3],[.35,.25]];
const cMetal = [[-1.82,3.49],[-1.85,3.47],[-1.1,1.2],[-1.15,1.15],[-1.05,1.12],[-1.2,1.05],[-1,1.05],[-.9,1.02],[-.75,1.02],[-1.45,.98],[-1.4,1.02],[-1.3,1],[-1,.8],[-.95,.8],[-.85,.8],[-.75,.8],[-.6,.82],[-.95,.62],[-.9,.58],[-1.05,.52],[-.85,.5],[-.75,.55],[-1.35,.5],[-1.3,.45],[-1.35,.42],[-.8,.45],[-.7,.42],[-.65,.38],[-.75,.35],[-.65,.28],[-.55,.3],[-.7,.22],[-.6,.2],[-.45,.15],[-.55,.1],[-1.28,0],[-1.2,.05],[-.85,.12],[-.75,.05],[-.65,.08],[-.8,-.05],[-.7,-.1],[-.6,-.05],[-.5,-.08],[-.4,-.1],[-.75,-.18],[-.65,-.22],[-.55,-.25],[-.45,-.2],[-.35,-.25],[-.25,-.3],[-.1,-.4],[0,-.35],[.1,-.45],[-.2,-.45],[-1.2,-.3],[-1.25,-.35],[-1.3,-.45],[-1.35,-.55],[-.95,-.35],[-1,-.45],[-.9,-.5],[-.8,-.4],[-1.65,-.6],[-1.6,-.65],[-1.7,-.7],[-1.75,-.75],[-1.8,-.85],[-1.85,-.95],[-1.9,-1],[-1.75,-.95],[-1.65,-.85],[-1.55,-.8],[-1.45,-.75],[-1.4,-.62],[-1.3,-.6],[-1.25,-.72],[-1.35,-.85],[-1.25,-.9],[-1.15,-.75],[-1.1,-.65],[-1.05,-.8],[-1.2,-.95],[-1.05,-.92],[-.95,-.7],[-.85,-.78],[-.75,-.82],[-.65,-.85],[-.55,-.88],[-1.55,-.95],[-1.65,-1],[-1.45,-.98],[1.05,-1.33],[1.15,-1.38],[1.1,-1.35],[.95,-.55],[1.2,-.62],[1.25,-.68],[.55,.55],[.6,.5],[.65,.62],[.1,-.1],[-.95,.4],[-.85,.3],[-.75,.18],[-.8,.25],[-.62,.02],[-.52,.05],[-.42,-.02],[-.32,-.12],[-.42,-.3],[-.3,-.35],[-.18,-.3],[-.08,-.3],[.02,-.45],[-.55,-.35],[-.65,-.35],[-.72,-.28],[-1.1,0],[-1.08,-.2],[-1.15,-.12],[-1.2,-.45],[-1.28,-.55],[-1.2,-.6],[-1.1,-.5],[-1.02,-.55],[-.98,-.62],[-1.45,-.85],[-1.55,-.7],[-1.5,-.9],[-1.7,-.95],[-1.6,-.92],[-1.8,-.98],[-1.38,-.72],[-1.3,-.78],[-1.15,-.88],[-.95,-.85],[-.88,-.92],[-.75,-.9],[-.65,-.78],[-.55,-.8],[-.45,-.82],[-1,.65],[-1.1,.58],[-.9,.7],[-.85,.65],[-.7,.65],[-.62,.4]];
const cGlass = [[-1.75,3.53],[-1.8,3.5],[-1.5,2.93],[-1.4,2.95],[-1.35,2.98],[-1.3,3.02],[-1.25,3.05],[-1.2,3.1],[-1.15,3.18],[.05,2.06],[.1,2.3],[.15,2.33],[.25,2.36],[.4,2.35],[.85,2.38],[.8,2.32],[.78,2.2],[.7,2.1],[.67,2.02],[.45,1.91],[.75,1.85],[1.15,1.93],[3.12,1.98],[-.2,1.67],[.5,1.65],[.95,1.66],[1.02,1.65],[1.3,1.68],[1.27,1.52],[4.28,1.65],[1.25,1.35],[.88,1.35],[.6,1.27],[1.2,1.15],[-.5,1.33],[-.45,1.35],[-.4,1.3],[-.35,1.35],[-.3,1.32],[-.2,1.35],[-.3,1.22],[-.4,1.25],[-.75,1.05],[-.65,1.05],[-.5,1.07],[-.4,1.08],[-.28,1.1],[-.55,.95],[-.45,.98],[-.35,.95],[.75,.88],[-.38,.75],[-.3,.7],[-.2,.65],[-.1,.72],[-.12,.62],[-.35,.62],[-.2,.58],[1.6,.65],[1.52,.58],[1.45,.5],[1.25,.45],[1.3,.38],[3.45,.45],[4,.68],[3.45,.17],[2.85,.22],[1.65,-.25],[2.15,-.23],[1.3,-.25],[-.95,.5],[-.85,.45],[-.7,.4],[-.55,.38],[-.4,.35],[-.25,.35],[-.1,.3],[.05,.32],[.15,.35],[.3,.4],[-.55,-.1],[-.5,0],[-.45,-.15],[-.4,.05],[-.35,-.05],[-.3,-.2],[-.25,.1],[-.2,-.1],[-.15,0],[-.1,-.2],[-.05,.12],[0,-.05],[.05,.15],[.1,-.12],[.12,.05],[.15,.22],[.2,-.02],[.25,.12],[.28,.28],[.3,-.1],[.35,.05],[.38,.2],[.4,.33],[.45,.1],[.5,.25],[.55,.15],[.05,.02],[-.05,-.12],[-.15,.1],[-.25,-.05],[-.4,-.2],[-.45,.1],[-.1,.22],[.15,-.25],[0,-.25],[-.2,-.28],[.25,-.2],[.35,-.15],[.1,.28],[-.02,.2],[.2,.18],[.6,.2],[.62,.08],[.5,-.02],[.42,-.05],[.28,-.02],[.18,.1],[.08,.1],[-.12,-.02],[-.3,.02],[-.5,-.2],[-.38,.12],[-.22,.18],[.32,.2],[.45,.32],[-.35,.22],[.1,-.33],[.2,-.38],[.3,-.42],[.45,-.48],[.55,-.52],[.7,-.55],[.85,-.6],[.95,-.62],[1.1,-.65],[1.3,-.7],[-.55,-.5],[-.4,-.45],[-.25,-.42],[-1.7,-1],[-1.6,-1.03],[-1.5,-1.02],[-1.4,-1.05],[-1.3,-1.05],[-1.15,-1],[-1.05,-1.1],[-.75,-1.13],[-.6,-1.07],[-.7,-.95],[-.6,-.9],[-.4,-.95],[-.3,-.95],[.05,-.7],[.1,-.73],[0,-.85],[.2,-.9],[.35,-.92],[.5,-.95],[.65,-.98],[.8,-.95],[.9,-1.05],[1,-1.1],[.95,-1],[.75,-1.08],[2.25,-.9],[.4,-.75],[.25,-.65],[-.5,.12],[-.45,-.05],[-.42,-.12],[-.32,.08],[-.28,-.12],[-.22,.05],[-.18,-.2],[-.12,.08],[-.08,-.08],[-.02,.05],[.02,-.15],[.03,.22],[.08,-.05],[.15,-.05],[.22,.08],[.22,-.1],[.28,.18],[.33,-.05],[.38,.1],[.42,.22],[.48,.18],[.55,.3],[.08,.18],[.18,.3],[.3,.32],[-.28,.25],[-.6,-.02],[-.62,-.15],[-.55,.05],[-.5,-.28],[-.7,-.05],[-.35,-.32],[-.6,.52],[-.75,.48],[-.3,.55],[-.2,.45],[-.45,.5],[.6,.32],[.85,.35],[1,.38],[1.15,.4],[1.2,.3],[1.35,.35],[.8,0],[.95,.12],[1.1,.05],[.95,-.72],[1.05,-.82],[.55,-.68],[.68,-.88],[.12,-.88],[-.1,-.75],[-.2,-.82]];

const xLabels13 = [-4, 0, 4, 8];
const yLabelsA1 = [-2, 0, 2];
const xLabelsA2 = [-2, 0, 2, 4, 6];
const yLabelsA2 = [-4, -2, 0, 2];
const yLabelsB = [-2, 0, 2, 4];
const xLabelsC = [0, 4, 8];
const yLabelsC = [-2, 0, 2, 4];

const GREEN = '#00a650', ORANGE = '#f7941e', PURPLE = '#662d91';
const TITLE_TEXT = 'Constant-room condition';

function toPoints(list) {
    return list.map(p => ({ x: p[0], y: p[1] }));
}

function woodSet(list) {
    return { label: 'Wood', data: toPoints(list), pointStyle: 'circle', pointRadius: 2.1, pointBorderWidth: 0, backgroundColor: GREEN, borderColor: GREEN };
}
function metalSet(list) {
    return { label: 'Metal', data: toPoints(list), pointStyle: 'triangle', pointRadius: 2.6, pointBorderWidth: 0, backgroundColor: ORANGE, borderColor: ORANGE };
}
function glassSet(list) {
    return { label: 'Glass', data: toPoints(list), pointStyle: 'cross', pointRadius: 2.4, pointBorderWidth: 1.2, backgroundColor: PURPLE, borderColor: PURPLE };
}

function tickText(labels) {
    return v => labels.includes(v) ? String(v).replace('-', '\u2212') : '';
}

// inward ticks need a negative tick length, labels are pushed out with padding
function axisGrid() {
    return { drawOnChartArea: false, drawTicks: true, tickLength: -3.5, color: '#444' };
}

function makeChart(id, cfg) {
    const mainX = {
        type: 'linear', position: 'bottom', min: cfg.xRange[0], max: cfg.xRange[1],
        grid: axisGrid(), border: { color: '#333' },
        ticks: { stepSize: cfg.xStep, autoSkip: false, maxRotation: 0, padding: 7, color: '#000', font: { family: 'Liberation Sans', size: 14 }, callback: tickText(cfg.xLabels) },
        title: { display: true, text: 'Discriminant function 1', color: '#000', padding: 0, font: { family: 'Liberation Sans', size: 13.5, lineHeight: 0.6 } },
        afterFit: s => { s.height = cfg.bottom; s.paddingLeft = 0; s.paddingRight = 0; }
    };
    const mainY = {
        type: 'linear', position: 'left', min: cfg.yRange[0], max: cfg.yRange[1],
        grid: axisGrid(), border: { color: '#333' },
        ticks: { stepSize: 1, autoSkip: false, padding: 8, color: '#000', font: { family: 'Liberation Sans', size: 14 }, callback: tickText(cfg.yLabels) },
        title: { display: true, text: 'Discriminant function 2', color: '#000', padding: { top: cfg.yTitlePad, bottom: 0 }, font: { family: 'Liberation Sans', size: 13.5, lineHeight: 0.6 } },
        afterFit: s => { s.width = cfg.left; s.paddingTop = 0; s.paddingBottom = 0; }
    };
    const topX = {
        type: 'linear', position: 'top', min: cfg.xRange[0], max: cfg.xRange[1],
        grid: axisGrid(), border: { color: '#333' },
        ticks: { display: false, stepSize: cfg.xStep },
        title: { display: true, text: cfg.title, color: '#000', padding: { top: cfg.titlePad, bottom: 0 }, font: { family: 'Liberation Sans', size: 22.2 } },
        afterFit: s => { s.height = cfg.top; s.paddingLeft = 0; s.paddingRight = 0; }
    };
    const rightY = {
        type: 'linear', position: 'right', min: cfg.yRange[0], max: cfg.yRange[1],
        grid: axisGrid(), border: { color: '#333' },
        ticks: { display: false, stepSize: 1 },
        afterFit: s => { s.width = cfg.right; s.paddingTop = 0; s.paddingBottom = 0; }
    };
    return new Chart(document.getElementById(id).getContext('2d'), {
        type: 'scatter',
        data: { datasets: cfg.datasets },
        options: {
            responsive: false,
            animation: false,
            layout: { padding: { bottom: cfg.padBottom } },
            plugins: { legend: { display: false }, tooltip: { enabled: false } },
            scales: { x: mainX, y: mainY, x2: topX, y2: rightY }
        }
    });
}

makeChart('chartA1', {
    datasets: [metalSet(a1Metal), woodSet(a1Wood), glassSet(a1Glass.concat(a1GlassCore))],
    title: TITLE_TEXT, titlePad: 37, xRange: [-4, 8], yRange: [-2, 3], xStep: 2,
    xLabels: xLabels13, yLabels: yLabelsA1,
    left: 41, right: 24, top: 65, bottom: 31, padBottom: 10, yTitlePad: 2
});
makeChart('chartA2', {
    datasets: [metalSet(a2Metal), woodSet(a2Wood), glassSet(a2Glass.concat(a2GlassCore))],
    title: 'Varying-room condition', titlePad: 37, xRange: [-2, 7], yRange: [-4, 3], xStep: 1,
    xLabels: xLabelsA2, yLabels: yLabelsA2,
    left: 62, right: 3, top: 65, bottom: 31, padBottom: 10, yTitlePad: 25
});
makeChart('chartB', {
    datasets: [metalSet(bMetal), glassSet(bGlass), woodSet(bWood)],
    title: TITLE_TEXT, titlePad: 46, xRange: [-4, 8], yRange: [-2, 5], xStep: 2,
    xLabels: xLabels13, yLabels: yLabelsB,
    left: 41, right: 24, top: 74, bottom: 31, padBottom: 0, yTitlePad: 2
});
makeChart('chartC', {
    datasets: [metalSet(cMetal), woodSet(cWood), glassSet(cGlass)],
    title: TITLE_TEXT, titlePad: 46, xRange: [-2, 8], yRange: [-3, 4], xStep: 2,
    xLabels: xLabelsC, yLabels: yLabelsC,
    left: 62, right: 3, top: 74, bottom: 31, padBottom: 0, yTitlePad: 25
});
</script>
</body>
</html>
